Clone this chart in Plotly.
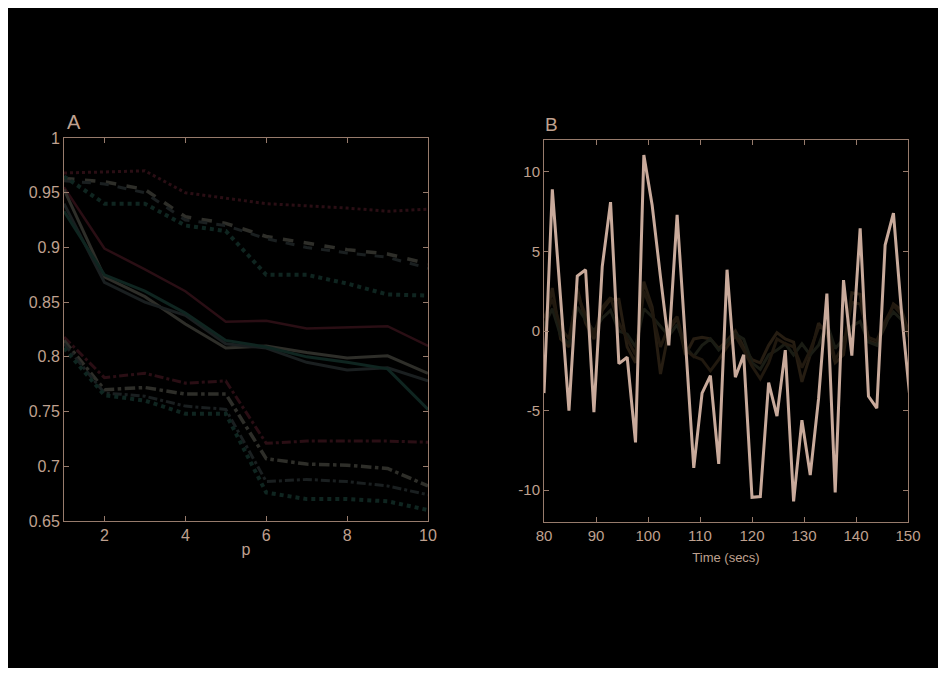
import plotly.graph_objects as go

# ---------------- Panel A data ----------------
p_vals = [1, 2, 3, 4, 5, 6, 7, 8, 9, 10]

a_red_dot = [0.968, 0.969, 0.970, 0.950, 0.945, 0.940, 0.938, 0.936, 0.933, 0.935]
a_gray_dash = [0.963, 0.960, 0.953, 0.928, 0.922, 0.910, 0.904, 0.898, 0.894, 0.885]
a_dark_dash = [0.961, 0.958, 0.950, 0.925, 0.920, 0.908, 0.900, 0.895, 0.891, 0.881]
a_teal_dot = [0.965, 0.940, 0.940, 0.920, 0.915, 0.875, 0.875, 0.867, 0.857, 0.856]

a_red_solid = [0.955, 0.899, 0.880, 0.860, 0.832, 0.833, 0.826, 0.827, 0.828, 0.810]
a_gray_solid = [0.953, 0.873, 0.855, 0.830, 0.808, 0.810, 0.804, 0.799, 0.801, 0.785]
a_dark_solid = [0.940, 0.868, 0.850, 0.838, 0.812, 0.808, 0.795, 0.788, 0.790, 0.778]
a_teal_solid = [0.933, 0.875, 0.860, 0.840, 0.815, 0.809, 0.800, 0.795, 0.789, 0.752]

a_red_dd = [0.818, 0.781, 0.785, 0.776, 0.778, 0.721, 0.723, 0.723, 0.723, 0.722]
a_gray_dd = [0.815, 0.770, 0.772, 0.766, 0.766, 0.707, 0.702, 0.701, 0.698, 0.682]
a_dark_dd = [0.812, 0.767, 0.764, 0.755, 0.752, 0.686, 0.688, 0.686, 0.682, 0.674]
a_teal_dd = [0.808, 0.765, 0.760, 0.748, 0.748, 0.676, 0.670, 0.670, 0.668, 0.660]

a_xticks = [2, 4, 6, 8, 10]
a_yticks = [0.65, 0.7, 0.75, 0.8, 0.85, 0.9, 0.95, 1]
a_yticklabels = ["0.65", "0.7", "0.75", "0.8", "0.85", "0.9", "0.95", "1"]

# ---------------- Panel B data ----------------
time_secs = [80.0, 81.6, 83.2, 84.8, 86.4, 88.0, 89.6, 91.2, 92.8, 94.4,
             96.0, 97.6, 99.2, 100.8, 102.4, 104.0, 105.6, 107.2, 108.8, 110.4,
             112.0, 113.6, 115.2, 116.8, 118.4, 120.0, 121.6, 123.2, 124.8, 126.4,
             128.0, 129.6, 131.2, 132.8, 134.4, 136.0, 137.6, 139.2, 140.8, 142.4,
             144.0, 145.6, 147.2, 148.8, 150.4]

b_signal = [-3.9, 8.9, 2.0, -5.0, 3.45, 3.85, -5.1, 4.05, 8.1, -2.05,
            -1.65, -7.0, 11.05, 7.9, 3.4, -0.9, 7.3, -0.7, -8.6, -3.9,
            -2.8, -8.35, 3.85, -2.9, -1.5, -10.45, -10.4, -3.25, -5.35, -1.2,
            -10.7, -5.6, -9.05, -4.25, 2.35, -10.15, 3.2, -1.55, 6.45, -4.1,
            -4.85, 5.4, 7.4, 1.0, -4.3]

b_fit1 = [0.0, 2.7, -0.5, -1.0, 2.7, 0.5, -0.5, 1.3, 2.0, 2.0,
          -1.0, -2.0, 3.1, 1.5, -2.7, 0.0, 0.8, -1.5, -0.5, -0.4,
          -0.5, -1.1, -0.6, 0.0, -1.0, -1.8, -2.0, -0.9, -0.1, -0.5,
          -0.7, -3.2, -1.5, 0.5, -0.2, -2.0, -1.5, 2.4, 2.3, -0.6,
          -0.8, 0.3, 1.7, 1.3, -0.4]

b_fit2 = [0.3, 1.4, -0.3, -0.8, 1.5, 0.7, 0.0, 0.8, 1.3, 0.0,
          -0.2, -1.0, 1.4, 0.9, 0.3, -0.3, 0.4, -1.0, -1.6, -0.9,
          -0.5, -1.2, -0.7, -0.2, -0.5, -2.0, -2.4, -1.5, -1.2, -0.8,
          -1.5, -0.8, -1.5, -0.9, 0.5, -1.1, -0.5, 0.3, 0.6, -0.7,
          -0.9, 0.5, 1.2, 0.7, -0.5]

b_fit3 = [0.8, 2.0, 0.2, -0.5, 2.3, 1.0, -0.3, 1.5, 2.1, 0.5,
          -0.5, -1.5, 2.5, 1.2, -1.0, 0.3, 0.9, -1.2, -1.6, -1.8,
          -2.5, -1.8, -1.0, -0.3, -1.2, -2.2, -3.0, -2.0, -0.5, -0.8,
          -1.0, -2.3, -1.2, 0.2, 0.3, -1.8, -0.9, 1.8, 1.7, -0.4,
          -0.6, 0.6, 1.6, 1.0, -0.5]

b_xticks = [80, 90, 100, 110, 120, 130, 140, 150]
b_yticks = [-10, -5, 0, 5, 10]
b_yticklabels = ["-10", "-5", "0", "5", "10"]

# ---------------- Styling ----------------
TAN = "#bfa08f"
AXIS = "#977b6c"
RED = "#2a0e14"
GRAY = "#2e2e29"
DARK = "#1a1f20"
TEAL = "#0f2520"
BRIGHT = "#c9aa9b"

fig = go.Figure()

series_a = [
    (a_red_dot, RED, "dot", 3),
    (a_gray_dash, GRAY, "dash", 3.5),
    (a_dark_dash, DARK, "dash", 3),
    (a_teal_dot, TEAL, "dot", 4),
    (a_red_solid, RED, "solid", 2.5),
    (a_gray_solid, GRAY, "solid", 3),
    (a_dark_solid, DARK, "solid", 3),
    (a_teal_solid, TEAL, "solid", 3),
    (a_red_dd, RED, "dashdot", 3),
    (a_gray_dd, GRAY, "dashdot", 3.5),
    (a_dark_dd, DARK, "dashdot", 3),
    (a_teal_dd, TEAL, "dot", 4),
]
for vals, col, dash, w in series_a:
    fig.add_trace(go.Scatter(x=p_vals, y=vals, mode="lines",
                             line=dict(color=col, dash=dash, width=w),
                             xaxis="x", yaxis="y", showlegend=False,
                             hoverinfo="skip"))

for vals, col in [(b_fit1, "#261d12"), (b_fit2, "#1a1c14"), (b_fit3, "#21190f")]:
    fig.add_trace(go.Scatter(x=time_secs, y=vals, mode="lines",
                             line=dict(color=col, width=3),
                             xaxis="x2", yaxis="y2", showlegend=False,
                             hoverinfo="skip"))

fig.add_trace(go.Scatter(x=time_secs, y=b_signal, mode="lines",
                         line=dict(color=BRIGHT, width=3),
                         xaxis="x2", yaxis="y2", showlegend=False,
                         hoverinfo="skip"))

W, H = 932, 660
FONT = "Liberation Sans, Arial, sans-serif"

common = dict(showline=True, linecolor=AXIS, linewidth=1, mirror="ticks",
              ticks="inside", ticklen=5, tickcolor=AXIS, showgrid=False,
              zeroline=False, automargin=False)

fig.update_layout(
    width=W, height=H,
    margin=dict(l=0, r=0, t=0, b=0),
    paper_bgcolor="black", plot_bgcolor="black",
    font=dict(family=FONT, color=TAN),
    xaxis=dict(domain=[56 / W, 420 / W], range=[1, 10], tickvals=a_xticks,
               tickfont=dict(size=16, color=TAN), anchor="y",
               title=dict(text="p", font=dict(size=16, color=TAN), standoff=0),
               **common),
    yaxis=dict(domain=[(H - 513) / H, (H - 130) / H], range=[0.65, 1],
               tickvals=a_yticks, ticktext=a_yticklabels,
               tickfont=dict(size=16, color=TAN), anchor="x", **common),
    xaxis2=dict(domain=[536 / W, 900 / W], range=[80, 150], tickvals=b_xticks,
                tickfont=dict(size=15, color=TAN), anchor="y2",
                title=dict(text="Time (secs)", font=dict(size=13, color=TAN), standoff=9),
                **common),
    yaxis2=dict(domain=[(H - 514) / H, (H - 132) / H], range=[-12, 12],
                tickvals=b_yticks, ticktext=b_yticklabels,
                tickfont=dict(size=15, color=TAN),
                anchor="x2", **common),
    annotations=[
        dict(text="A", x=57 / W, y=(H - 114) / H, xref="paper", yref="paper",
             xanchor="left", yanchor="middle", showarrow=False,
             font=dict(size=20, color=TAN, family=FONT)),
        dict(text="B", x=535 / W, y=(H - 117) / H, xref="paper", yref="paper",
             xanchor="left", yanchor="middle", showarrow=False,
             font=dict(size=19, color=TAN, family=FONT)),
    ],
)

fig.write_html("out.html")
